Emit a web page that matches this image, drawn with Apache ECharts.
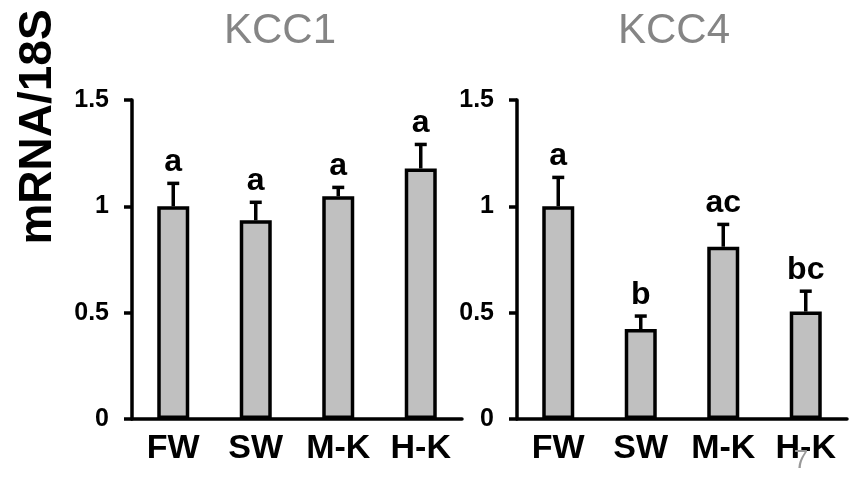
<!DOCTYPE html>
<html>
<head>
<meta charset="utf-8">
<script src="https://cdn.jsdelivr.net/npm/echarts@6/dist/echarts.min.js"></script>
<style>
  html, body { margin: 0; padding: 0; background: #fff; }
  #main { width: 866px; height: 477px; }
</style>
</head>
<body>
<div id="main"></div>
<script>
// data
var categories = ['FW', 'SW', 'M-K', 'H-K'];
var yTicks = [0, 0.5, 1, 1.5];

var kcc1Mean = [1.0, 0.934, 1.047, 1.178];
var kcc1Err = [0.108, 0.085, 0.042, 0.113];
var kcc1Letters = ['a', 'a', 'a', 'a'];

var kcc4Mean = [1.0, 0.423, 0.81, 0.505];
var kcc4Err = [0.136, 0.061, 0.105, 0.096];
var kcc4Letters = ['a', 'b', 'ac', 'bc'];

var FONT = 'Arial, "Liberation Sans", sans-serif';

var chart = echarts.init(document.getElementById('main'));

function xAxisOf(idx) {
  return {
    type: 'category',
    gridIndex: idx,
    data: categories,
    axisLine: { lineStyle: { color: '#000', width: 3.5 } },
    axisTick: { show: false },
    axisLabel: { interval: 0, color: '#000', fontSize: 34, fontWeight: 'bold', fontFamily: FONT, margin: 13 }
  };
}

function yAxisOf(idx) {
  return {
    type: 'value',
    gridIndex: idx,
    min: yTicks[0],
    max: yTicks[yTicks.length - 1],
    interval: yTicks[1] - yTicks[0],
    splitLine: { show: false },
    axisLine: { show: true, lineStyle: { color: '#000', width: 3.5 } },
    axisTick: { show: true, length: 8, lineStyle: { color: '#000', width: 3.5 } },
    axisLabel: { color: '#000', fontSize: 25, fontWeight: 'bold', fontFamily: FONT, margin: 23 }
  };
}

function barSeries(idx, mean) {
  return {
    type: 'bar',
    xAxisIndex: idx,
    yAxisIndex: idx,
    data: mean,
    barWidth: 32,
    itemStyle: { color: '#c0c0c0', borderColor: '#000', borderWidth: 3.5 },
    z: 3
  };
}

function errSeries(idx, mean, err, letters) {
  return {
    type: 'custom',
    xAxisIndex: idx,
    yAxisIndex: idx,
    data: mean.map(function (m, i) { return [i, m, err[i]]; }),
    z: 2,
    renderItem: function (params, api) {
      var i = api.value(0);
      var m = api.value(1);
      var s = api.value(2);
      var p0 = api.coord([i, m]);
      var p1 = api.coord([i, m + s]);
      var st = { stroke: '#000', lineWidth: 3.5 };
      return {
        type: 'group',
        children: [
          { type: 'line', shape: { x1: p0[0], y1: p0[1], x2: p1[0], y2: p1[1] }, style: st },
          { type: 'line', shape: { x1: p1[0] - 6, y1: p1[1], x2: p1[0] + 6, y2: p1[1] }, style: st },
          {
            type: 'text',
            style: {
              text: letters[i], x: p1[0], y: p1[1] - 5,
              align: 'center', verticalAlign: 'bottom',
              fontSize: 32, fontWeight: 'bold', fontFamily: FONT, fill: '#000'
            }
          }
        ]
      };
    }
  };
}

chart.setOption({
  animation: false,
  grid: [
    { left: 132, top: 100, width: 330, height: 319 },
    { left: 517, top: 100, width: 330, height: 319 }
  ],
  xAxis: [xAxisOf(0), xAxisOf(1)],
  yAxis: [yAxisOf(0), yAxisOf(1)],
  series: [
    barSeries(0, kcc1Mean),
    errSeries(0, kcc1Mean, kcc1Err, kcc1Letters),
    barSeries(1, kcc4Mean),
    errSeries(1, kcc4Mean, kcc4Err, kcc4Letters)
  ],
  graphic: [
    {
      type: 'text', x: 280, y: 31,
      style: { text: 'KCC1', align: 'center', verticalAlign: 'middle', fontSize: 42, fontFamily: FONT, fill: '#858585' }
    },
    {
      type: 'text', x: 674, y: 31,
      style: { text: 'KCC4', align: 'center', verticalAlign: 'middle', fontSize: 42, fontFamily: FONT, fill: '#858585' }
    },
    {
      type: 'text', x: 38, y: 127, rotation: Math.PI / 2,
      style: { text: 'mRNA/18S', align: 'center', verticalAlign: 'middle', fontSize: 46, fontWeight: 'bold', fontFamily: FONT, fill: '#000' }
    },
    {
      type: 'text', x: 801, y: 461, z: 100,
      style: { text: '7', align: 'center', verticalAlign: 'middle', fontSize: 26, fontFamily: FONT, fill: '#999' }
    }
  ]
});
</script>
</body>
</html>
